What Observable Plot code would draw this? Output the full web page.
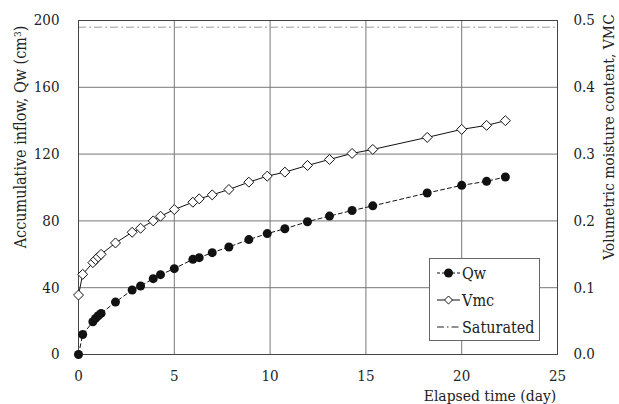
<!DOCTYPE html>
<html>
<head>
<meta charset="utf-8">
<script src="https://cdn.jsdelivr.net/npm/d3@7"></script>
<script src="https://cdn.jsdelivr.net/npm/@observablehq/plot@0.6"></script>
<style>
  html, body { margin: 0; padding: 0; background: white; }
  #chart { width: 619px; height: 404px; overflow: hidden; }
  #chart svg, #chart svg text { font-family: "DejaVu Serif Condensed", "DejaVu Serif", serif !important; font-stretch: condensed; }
</style>
</head>
<body>
<div id="chart"></div>
<script>
// Elapsed time (day)
const days = [0, 0.22, 0.75, 0.89, 1.03, 1.18, 1.93, 2.8, 3.24, 3.9, 4.28, 5.0, 5.97, 6.3, 6.98, 7.85, 8.89, 9.85, 10.77, 11.95, 13.1, 14.28, 15.36, 18.2, 20.0, 21.3, 22.28];
// Accumulative inflow Qw (cm3)
const qwValues = [0, 12, 19.6, 21.6, 23.2, 24.6, 31.4, 38.6, 41, 45.4, 47.8, 51.4, 57, 58, 61, 64.4, 68.8, 72.4, 75.3, 79.5, 82.9, 86.2, 89, 96.7, 101.3, 103.7, 106.3];
// Volumetric moisture content VMC
const vmcValues = [0.089, 0.12, 0.1375, 0.142, 0.146, 0.15, 0.167, 0.183, 0.189, 0.2, 0.207, 0.217, 0.228, 0.233, 0.239, 0.247, 0.258, 0.267, 0.273, 0.283, 0.292, 0.301, 0.307, 0.325, 0.337, 0.343, 0.35];
const saturatedVmc = 0.49;
const xTicks = [0, 5, 10, 15, 20, 25];
const yTicks = [0, 40, 80, 120, 160, 200];
const legendLabels = ["Qw", "Vmc", "Saturated"];
const vmcFactor = 400; // 0.5 VMC <-> 200 cm3

const rows = days.map((t, i) => ({t, qw: qwValues[i], vmc: vmcValues[i]}));
const font = "'DejaVu Serif Condensed', 'DejaVu Serif', serif";

const chart = Plot.plot({
  width: 619,
  height: 404,
  marginLeft: 78,
  marginRight: 62,
  marginTop: 20,
  marginBottom: 50,
  style: {fontFamily: font, fontSize: "15px", background: "white", color: "#222"},
  x: {domain: [0, 25]},
  y: {domain: [0, 200]},
  marks: [
    Plot.gridX(xTicks.slice(1, -1), {stroke: "#777", strokeOpacity: 1}),
    Plot.gridY(yTicks.slice(1, -1), {stroke: "#777", strokeOpacity: 1}),
    Plot.ruleY([saturatedVmc], {y: d => d * vmcFactor, stroke: "#999", strokeWidth: 1, strokeDasharray: "8,3,2,3"}),
    Plot.frame({stroke: "#444"}),
    Plot.axisX({ticks: xTicks, tickSize: 0, tickPadding: 16, label: null}),
    Plot.axisY({anchor: "left", ticks: yTicks, tickSize: 0, tickPadding: 19, label: null}),
    Plot.axisY({anchor: "right", ticks: yTicks, tickFormat: d => (d / vmcFactor).toFixed(1), tickSize: 0, tickPadding: 16, label: null}),
    Plot.line(rows, {x: "t", y: "qw", stroke: "#111", strokeWidth: 1, strokeDasharray: "4,3"}),
    Plot.dot(rows, {x: "t", y: "qw", r: 4.5, fill: "#111", stroke: "none"}),
    Plot.line(rows, {x: "t", y: d => d.vmc * vmcFactor, stroke: "#111", strokeWidth: 1}),
    Plot.dot(rows, {x: "t", y: d => d.vmc * vmcFactor, symbol: "diamond2", r: 4.5, fill: "white", stroke: "#111", strokeWidth: 1})
  ]
});

document.getElementById("chart").appendChild(chart);

const svg = d3.select(chart);

// Axis titles
svg.append("text")
  .attr("transform", "translate(26,137) rotate(-90)")
  .attr("text-anchor", "middle")
  .attr("font-size", 16).attr("fill", "#222")
  .html('Accumulative inflow, Qw (cm<tspan baseline-shift="super" font-size="10">3</tspan>)');

svg.append("text")
  .attr("transform", "translate(614,137) rotate(-90)")
  .attr("text-anchor", "middle")
  .attr("font-size", 15.5).attr("fill", "#222")
  .text("Volumetric moisture content, VMC");

svg.append("text")
  .attr("x", 490).attr("y", 401)
  .attr("text-anchor", "middle")
  .attr("font-size", 15.5).attr("fill", "#222")
  .text("Elapsed time (day)");

// Legend
const lg = svg.append("g");
lg.append("rect").attr("x", 429.5).attr("y", 258.5).attr("width", 110).attr("height", 82)
  .attr("fill", "white").attr("stroke", "#666");
const ly = [273, 300, 327];
// Qw
lg.append("line").attr("x1", 437).attr("x2", 460).attr("y1", ly[0]).attr("y2", ly[0])
  .attr("stroke", "#111").attr("stroke-dasharray", "3,2");
lg.append("circle").attr("cx", 448.5).attr("cy", ly[0]).attr("r", 4.5).attr("fill", "#111");
// Vmc
lg.append("line").attr("x1", 437).attr("x2", 460).attr("y1", ly[1]).attr("y2", ly[1])
  .attr("stroke", "#111");
lg.append("path").attr("d", d3.symbol(d3.symbolDiamond2, Math.PI * 3.6 * 3.6)())
  .attr("transform", `translate(448.5,${ly[1]})`).attr("fill", "white").attr("stroke", "#111");
// Saturated
lg.append("line").attr("x1", 437).attr("x2", 460).attr("y1", ly[2]).attr("y2", ly[2])
  .attr("stroke", "#222").attr("stroke-dasharray", "7,3,1.5,3");
legendLabels.forEach((lab, i) => {
  lg.append("text").attr("x", 462).attr("y", ly[i]).attr("dy", "0.35em")
    .attr("text-anchor", "start")
    .attr("font-size", 16).attr("fill", "#222").text(lab);
});
</script>
</body>
</html>
